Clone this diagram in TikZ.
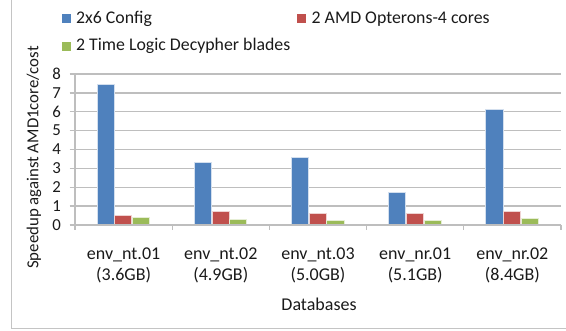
\documentclass[tikz,border=0pt]{standalone}
\usepackage{fontspec}
\setmainfont{Carlito}
\definecolor{barblue}{HTML}{4F81BD}
\definecolor{barred}{HTML}{C0504D}
\definecolor{bargreen}{HTML}{9BBB59}
\definecolor{gridgray}{HTML}{BEBEBE}
\definecolor{framegray}{HTML}{C4C4C4}
\definecolor{inkgray}{HTML}{1A1A1A}
\tikzset{
  chartfont/.style={font=\fontsize{16.8}{22}\selectfont, text=inkgray},
  catfont/.style={font=\fontsize{18}{20}\selectfont, text=inkgray},
  gridline/.style={draw=gridgray, line width=1.3pt},
  axisline/.style={draw=gridgray, line width=1.3pt},
  bluebar/.style={fill=barblue, draw=white!75!barblue, line width=0.4pt},
  redbar/.style={fill=barred, draw=white!75!barred, line width=0.4pt},
  greenbar/.style={fill=bargreen, draw=white!75!bargreen, line width=0.4pt},
  ticklabel/.style={chartfont, anchor=east, inner sep=0pt},
  catlabel/.style={catfont, anchor=base, inner sep=0pt},
  legendtext/.style={font=\fontsize{17.8}{22}\selectfont, text=inkgray, anchor=base west, inner sep=0pt},
}
\begin{document}
\begin{tikzpicture}[x=1pt, y=-1pt]
\useasboundingbox (0,0) rectangle (566,331);

% chart area frame (left and bottom edges)
\draw[framegray, line width=1.2pt] (11.5,0) -- (11.5,328.5) -- (566,328.5);

% horizontal gridlines
\foreach \v in {1,...,8}
  \draw[gridline] (75,{225-18.875*\v}) -- (561,{225-18.875*\v});

% bars: category index / 2x6 Config / AMD Opterons / Decypher blades
\foreach \i/\a/\b/\c in {0/7.47/0.53/0.42, 1/3.34/0.71/0.30, 2/3.59/0.62/0.28,
                         3/1.75/0.62/0.28, 4/6.13/0.71/0.37} {
  \pgfmathsetmacro{\xs}{75+97.2*\i+21.8}
  \path[bluebar]  (\xs,225) rectangle ++(17.1,{-18.875*\a});
  \path[redbar]   ({\xs+17.7},225) rectangle ++(17.1,{-18.875*\b});
  \path[greenbar] ({\xs+35.4},225) rectangle ++(17.1,{-18.875*\c});
}

% value axis with ticks and labels
\draw[axisline] (75,74) -- (75,225);
\foreach \v in {0,...,8} {
  \draw[axisline] (69.5,{225-18.875*\v}) -- (75,{225-18.875*\v});
  \node[ticklabel] (tick\v) at (61,{225-18.875*\v}) {\v};
}

% category axis with ticks
\draw[axisline] (75,225) -- (561,225);
\foreach \i in {0,...,5}
  \draw[axisline] ({75+97.2*\i},225) -- ({75+97.2*\i},230.5);

% category labels: database name and its size
\foreach \i/\name/\size in {0/env\_nt.01/3.6GB, 1/env\_nt.02/4.9GB, 2/env\_nt.03/5.0GB,
                            3/env\_nr.01/5.1GB, 4/env\_nr.02/8.4GB} {
  \node[catlabel] (cat\i) at ({75+97.2*\i+48.6},260) {\name};
  \node[catlabel] (size\i) at ({75+97.2*\i+48.6},280.5) {(\size)};
}

% axis titles
\node[catlabel] (xtitle) at (319,311) {Databases};
\node[chartfont, inner sep=0pt, rotate=90] (ytitle) at (34,157.5) {Speedup against AMD1core/cost};

% legend
\fill[barblue]  (62,14.5) rectangle (71,23.5);
\node[legendtext] (leg1) at (76,24) {2x6 Config};
\fill[barred]   (297,14.5) rectangle (306,23.5);
\node[legendtext] (leg2) at (311.5,24) {2 AMD Opterons-4 cores};
\fill[bargreen] (62,42) rectangle (71,51);
\node[legendtext] (leg3) at (76,51) {2 Time Logic Decypher blades};
\end{tikzpicture}
\end{document}
